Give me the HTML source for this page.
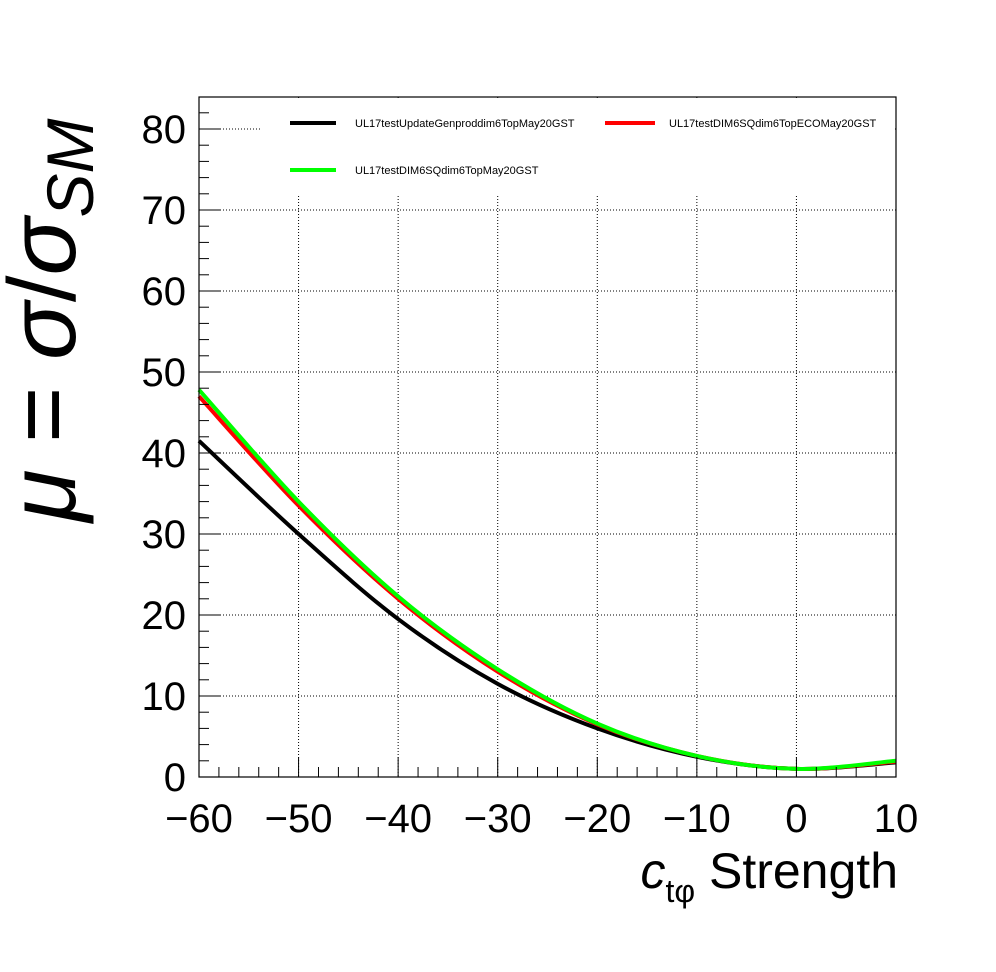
<!DOCTYPE html>
<html><head><meta charset="utf-8"><style>body{margin:0;background:#fff}svg{display:block}</style></head>
<body>
<svg id="c" width="996" height="972" xmlns="http://www.w3.org/2000/svg" font-family="Liberation Sans, sans-serif">
<rect width="996" height="972" fill="#fff"/>
<g id="grid"></g>
<rect x="260" y="98" width="635" height="97" fill="#fff"/>
<g id="series"></g>
<rect x="199" y="97" width="697" height="680" fill="none" stroke="#000" stroke-width="1.2"/>
<g id="axes"></g>
<g font-size="11">
<line x1="290" y1="123" x2="336" y2="123" stroke="#000" stroke-width="4"/>
<text x="355" y="127">UL17testUpdateGenproddim6TopMay20GST</text>
<line x1="605" y1="123" x2="655" y2="123" stroke="#f00" stroke-width="4"/>
<text x="669" y="127">UL17testDIM6SQdim6TopECOMay20GST</text>
<line x1="290" y1="170" x2="336" y2="170" stroke="#0f0" stroke-width="4"/>
<text x="355" y="174">UL17testDIM6SQdim6TopMay20GST</text>
</g>
<text x="898" y="888" font-size="50" text-anchor="end"><tspan font-style="italic">c</tspan><tspan font-size="32" dy="14">tφ</tspan><tspan dy="-14"> Strength</tspan></text>
<text transform="translate(75,522) rotate(-90)" font-size="96"><tspan font-style="italic">μ</tspan> = <tspan font-style="italic">σ</tspan>/<tspan font-style="italic">σ</tspan><tspan font-style="italic" font-size="66" dy="18">SM</tspan></text>
</svg>
<script>
const xCats=[-60,-50,-40,-30,-20,-10,0,10];
const blackVals=[41.5,30,19.5,11.5,6,2.5,1,1.8];
const redVals=[47,33.5,22,13,6.5,2.6,1,1.9];
const greenVals=[47.8,34,22.3,13.3,6.6,2.6,1,2.0];
const xTicks=[-60,-50,-40,-30,-20,-10,0,10];
const yTicks=[0,10,20,30,40,50,60,70,80];
const X=v=>199+(v+60)*697/70;
const Y=v=>777-v*8.1;
const ns="http://www.w3.org/2000/svg";
function mk(t,a,p){const e=document.createElementNS(ns,t);for(const k in a)e.setAttribute(k,a[k]);p.appendChild(e);return e;}
const grid=document.getElementById('grid'),axes=document.getElementById('axes'),ser=document.getElementById('series');
xTicks.forEach(v=>{
 if(v>-60&&v<10){const l=mk('line',{x1:X(v),x2:X(v),y1:97,y2:777,stroke:'#000','stroke-width':1,'stroke-dasharray':'1,2'},grid);
 
 }
 const t=mk('line',{x1:X(v),x2:X(v),y1:777,y2:757,stroke:'#000','stroke-width':1},axes);
 
 
 const tx=mk('text',{x:X(v),y:832,'font-size':40,'text-anchor':'middle'},axes);
 tx.textContent=(v<0?'\u2212'+(-v):v);
 
 
});
for(let v=-60;v<10;v+=2){if(v%10===0)continue;
 const t=mk('line',{x1:X(v),x2:X(v),y1:777,y2:767,stroke:'#000','stroke-width':1},axes);
 
 }
yTicks.forEach(v=>{
 if(v>0){const l=mk('line',{x1:199,x2:896,y1:Y(v),y2:Y(v),stroke:'#000','stroke-width':1,'stroke-dasharray':'1,2'},grid);
 
 }
 const t=mk('line',{x1:199,x2:220,y1:Y(v),y2:Y(v),stroke:'#000','stroke-width':1},axes);
 
 
 const tx=mk('text',{x:186,y:Y(v)+14,'font-size':40,'text-anchor':'end'},axes);
 tx.textContent=v;
 
 
});
for(let v=2;v<84;v+=2){if(v%10===0)continue;
 const t=mk('line',{x1:199,x2:209,y1:Y(v),y2:Y(v),stroke:'#000','stroke-width':1},axes);
 
 }
function curve(vals,col,name){
 const p=xCats.map((x,i)=>[X(x),Y(vals[i])]);
 let d='M'+p[0][0]+','+p[0][1];
 for(let i=0;i<p.length-1;i++){const p0=p[i-1]||p[i],p1=p[i],p2=p[i+1],p3=p[i+2]||p2;
  d+=' C'+(p1[0]+(p2[0]-p0[0])/6)+','+(p1[1]+(p2[1]-p0[1])/6)+' '+(p2[0]-(p3[0]-p1[0])/6)+','+(p2[1]-(p3[1]-p1[1])/6)+' '+p2[0]+','+p2[1];}
 const e=mk('path',{d:d,fill:'none',stroke:col,'stroke-width':4},ser);
 
 
}
curve(blackVals,'#000','series-black');
curve(redVals,'#f00','series-red');
curve(greenVals,'#0f0','series-green');
</script>
</body></html>
